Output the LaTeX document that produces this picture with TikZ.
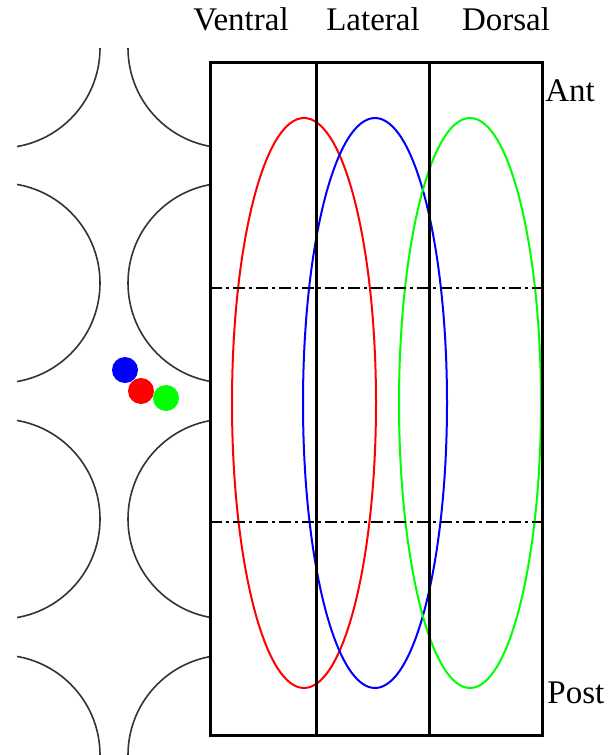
\documentclass[tikz,border=0pt]{standalone}
\usepackage{fontspec}
\setmainfont{Liberation Serif}
\usetikzlibrary{positioning}

\begin{document}
\begin{tikzpicture}[x=0.5pt, y=-0.5pt, font=\fontsize{16.5}{19}\selectfont,
    cell/.style={black!80, line width=0.8pt},
    zone/.style={line width=1pt},
    cut/.style={line width=1pt, dash pattern=on 6pt off 2pt on 1.5pt off 2pt},
    frame/.style={line width=1.5pt},
    dot/.style={circle, inner sep=0pt, minimum size=13pt}]
  \useasboundingbox (0,0) rectangle (610,755);
  % --- left: rows of cells ---
  \begin{scope}
    \clip (17,48) rectangle (210,755);
    \foreach \y in {48,283,519,755} {
      \draw[cell] (0,\y) circle[radius=100];
      \draw[cell] (228,\y) circle[radius=100];
    }
  \end{scope}
  \node[dot, fill=blue]   (b) at (125,370) {};
  \node[dot, fill=red]    (r) at (141,391) {};
  \node[dot, fill=green]  (g) at (166,398) {};
  % --- right: the three zones ---
  \draw[zone, red]   (304,403) ellipse[x radius=72, y radius=285];
  \draw[zone, blue]  (375,403) ellipse[x radius=72, y radius=285];
  \draw[zone, green] (470,403) ellipse[x radius=71, y radius=285];
  \draw[cut] (210,288) -- (542,288);
  \draw[cut] (210,522) -- (542,522);
  \draw[frame] (210,62) rectangle (542,735);
  \draw[frame] (316,62) -- (316,735);
  \draw[frame] (429,62) -- (429,735);
  % --- labels ---
  \node[anchor=base] (ventral) at (241,31) {Ventral};
  \node[anchor=base] (lateral) at (373,31) {Lateral};
  \node[anchor=base] (dorsal)  at (506,31) {Dorsal};
  \node[anchor=base west, inner sep=0pt] (ant)  at (545,101) {Ant};
  \node[anchor=base west, inner sep=0pt] (post) at (547,703) {Post};
\end{tikzpicture}
\end{document}
